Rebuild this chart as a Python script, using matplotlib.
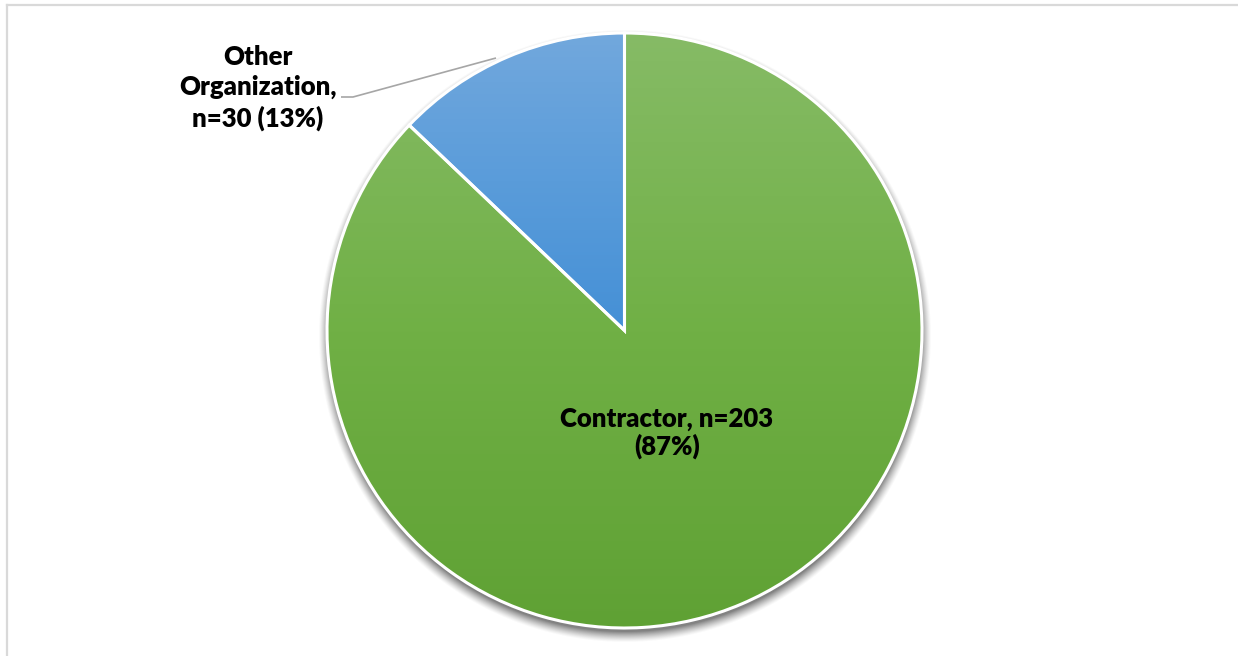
import numpy as np
import matplotlib
matplotlib.use("Agg")
import matplotlib.pyplot as plt
from matplotlib.colors import LinearSegmentedColormap
from matplotlib.lines import Line2D

# ---- data ----
categories = ["Contractor", "Other Organization"]
counts = [203, 30]
percents = [87, 13]
labels = ["Contractor, n=203\n(87%)", "Other\nOrganization,\nn=30 (13%)"]

W, H = 1238, 656
fig = plt.figure(figsize=(W / 100, H / 100), dpi=100)
fig.patch.set_facecolor("white")
ax = fig.add_axes([0, 0, 1, 1])

plt.rcParams['font.family'] = ['Lato', 'DejaVu Sans']

cx, cy, r = 624.5, H - 330.5, 297.5

# shadow
yy, xx = np.mgrid[0:H, 0:W]
d = np.hypot(xx - cx, (H - yy) - (cy - 5))
alpha = np.clip((r + 9 - d) / 11.0, 0, 1) ** 1.3 * 0.7
shadow = np.zeros((H, W, 4))
shadow[..., :3] = 0.3
shadow[..., 3] = alpha
ax.imshow(shadow, extent=(0, W, 0, H), origin="upper", zorder=0, interpolation="bilinear")

wedges, _ = ax.pie(counts, center=(cx, cy), radius=r, startangle=90, counterclock=False,
                   wedgeprops=dict(edgecolor="white", linewidth=2.2, facecolor="none"),
                   frame=True)

grads = [("#86BB66", "#70B045", "#5FA134"), ("#72A8DD", "#5A9CDA", "#4590D6")]
for w, stops in zip(wedges, grads):
    w.set_zorder(3)
    cmap = LinearSegmentedColormap.from_list("g", list(stops))
    path = w.get_path()
    verts = w.get_transform().transform(path.vertices)
    verts = ax.transData.inverted().transform(verts)
    y0, y1 = verts[:, 1].min(), verts[:, 1].max()
    x0, x1 = verts[:, 0].min(), verts[:, 0].max()
    grad = np.linspace(0, 1, 256).reshape(-1, 1)
    im = ax.imshow(grad, cmap=cmap, extent=(x0, x1, y0, y1), origin="upper",
                   aspect="auto", zorder=2, interpolation="bilinear")
    im.set_clip_path(w)

ax.set_xlim(0, W)
ax.set_ylim(0, H)
ax.set_aspect("equal")
ax.axis("off")

# labels
ax.text(667, H - 433, labels[0], ha="center", va="center", fontsize=18.5,
        fontweight="heavy", color="black", linespacing=1.15, zorder=5)
ax.text(258, H - 88, labels[1], ha="center", va="center", fontsize=18.5,
        fontweight="heavy", color="black", linespacing=1.3, zorder=5)

# leader line
ax.plot([341, 353, 496], [H - 97, H - 97, H - 58], color="#A6A6A6", lw=1.2, zorder=6,
        solid_capstyle="butt")

# frame border
fig.add_artist(Line2D([7 / W, 1], [1 - 4.5 / H, 1 - 4.5 / H], transform=fig.transFigure,
                      color="#D9D9D9", lw=1.6))
fig.add_artist(Line2D([7 / W, 7 / W], [0, 1 - 4.5 / H], transform=fig.transFigure,
                      color="#D9D9D9", lw=1.6))

fig.savefig("out.png", dpi=100, facecolor="white")
